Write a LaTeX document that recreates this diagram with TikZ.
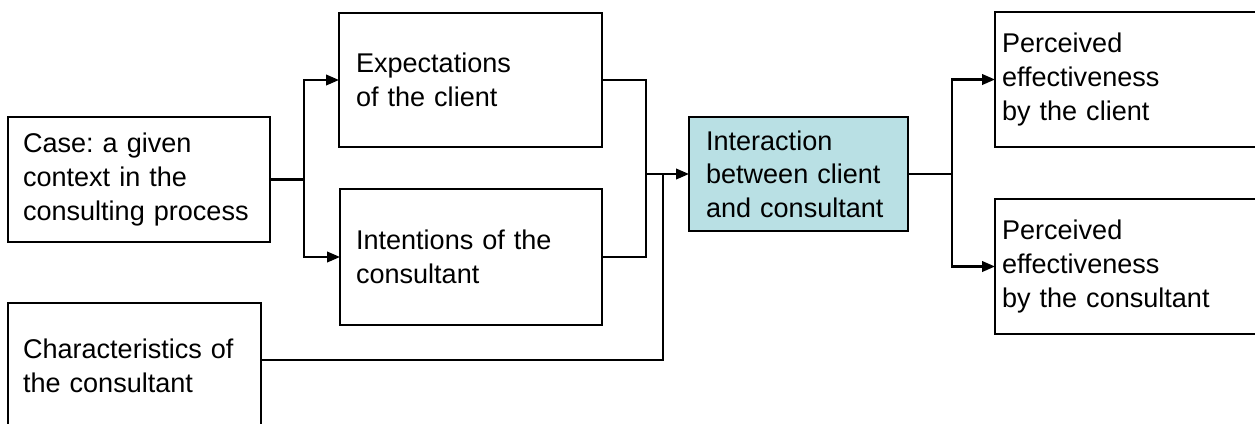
\documentclass[tikz,border=0pt]{standalone}
\usepackage{fontspec}
\setmainfont{Liberation Sans}
\usetikzlibrary{arrows.meta}
\definecolor{interfill}{RGB}{185,224,228}
\frenchspacing

\begin{document}
\begin{tikzpicture}[x=0.02cm,y=-0.02cm]
	\tikzset{>={Triangle[length=0.26cm,width=0.21cm]}}
	\tikzset{box/.style={draw,line width=1.2pt,outer sep=0pt,inner ysep=0pt,align=left,
		font=\fontsize{15.4pt}{19.1pt}\selectfont}}
	\clip (0,0) rectangle (1255,423);
	% inputs
	\node[box,text width=4.64cm,inner xsep=0.3cm,minimum height=2.5cm] (case) at (139,179.5)
		{Case: a given\\context in the\\consulting process};
	\node[box,text width=4.46cm,inner xsep=0.3cm,minimum height=2.52cm] (chars) at (134.5,366)
		{Characteristics of\\the consultant};
	% client and consultant
	\node[box,text width=4.58cm,inner xsep=0.34cm,minimum height=2.68cm] (expect) at (470.5,80)
		{Expectations\\of the client};
	\node[box,text width=4.6cm,inner xsep=0.32cm,minimum height=2.72cm] (intent) at (471,257)
		{Intentions of the\\consultant};
	\node[box,fill=interfill,text width=3.7cm,inner xsep=0.34cm,minimum height=2.28cm] (inter) at (798.5,174)
		{Interaction\\between client\\and consultant};
	% outcomes
	\node[box,text width=5.06cm,inner xsep=0.14cm,minimum height=2.7cm] (percl) at (1128.5,79.5)
		{Perceived\\effectiveness\\by the client};
	\node[box,text width=5.06cm,inner xsep=0.14cm,minimum height=2.7cm] (percon) at (1128.5,266.5)
		{Perceived\\effectiveness\\by the consultant};
	% junctions
	\coordinate (split1) at (304,179.5);
	\coordinate (merge) at (646,174);
	\coordinate (cjoin) at (663,174);
	\coordinate (split2) at (952,174);
	\begin{scope}[line width=1.3pt]
		\draw (case.east) -- (split1);
		\draw[->] (split1) |- (expect.west);
		\draw[->] (split1) |- (intent.west);
		\draw (expect.east) -| (merge);
		\draw (intent.east) -| (merge);
		\draw[->] (merge) -- (inter.west);
		\draw ([yshift=0.12cm]chars.east) -| (cjoin);
		\draw (inter.east) -- (split2);
		\draw[->] (split2) |- (percl.west);
		\draw[->] (split2) |- (percon.west);
	\end{scope}
\end{tikzpicture}
\end{document}
